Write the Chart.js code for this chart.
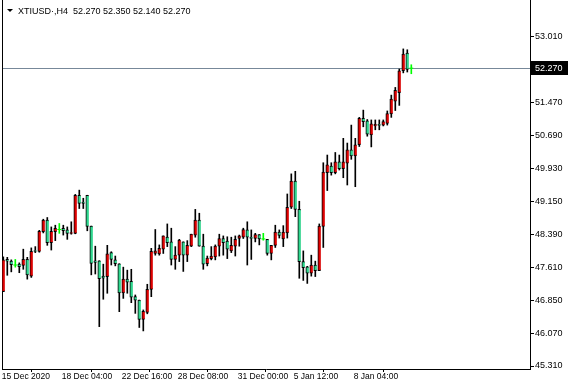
<!DOCTYPE html>
<html>
<head>
<meta charset="utf-8">
<script src="https://cdn.jsdelivr.net/npm/chart.js@4/dist/chart.umd.min.js"></script>
<style>
  html, body { margin: 0; padding: 0; background: #fff; }
  #wrap { width: 571px; height: 390px; position: relative; }
</style>
</head>
<body>
<div id="wrap"><canvas id="priceChart"></canvas></div>
<script>
// XTIUSD H4 candles (oldest first)
const symbol = 'XTIUSD·,H4';
const opens = [
  47.05, 47.80, 47.76, 47.67, 47.69, 47.66, 47.80, 47.41, 48.01, 47.99,
  48.45, 48.72, 48.19, 48.45, 48.50, 48.53, 48.49, 48.41, 48.41, 49.30,
  49.14, 49.30, 48.58, 47.77, 47.77, 47.41, 47.40, 47.96, 47.79, 47.70,
  47.02, 47.34, 47.29, 46.93, 46.85, 46.40, 46.56, 47.10, 47.94, 47.93,
  48.04, 48.32, 48.21, 47.80, 47.90, 48.21, 47.90, 48.11, 48.37, 48.72,
  48.11, 47.70, 47.82, 47.86, 48.11, 48.29, 48.23, 48.00, 48.11, 48.29,
  48.32, 48.49, 48.32, 48.29, 48.38, 48.28, 48.27, 47.94, 48.13, 48.44,
  48.28, 48.42, 49.02, 49.63, 48.97, 47.75, 47.63, 47.48, 47.67, 47.54,
  48.57, 49.83, 49.98, 49.83, 50.08, 49.92, 50.05, 50.36, 50.22, 50.48,
  51.10, 51.04, 50.71, 50.92, 50.96, 50.94, 50.98, 51.20, 51.50, 51.70,
  52.21, 52.62, 52.27
];
const highs = [
  47.86, 47.85, 47.79, 47.80, 47.72, 48.04, 47.85, 48.07, 48.10, 48.48,
  48.74, 48.78, 48.56, 48.60, 48.64, 48.60, 48.56, 48.68, 49.32, 49.42,
  49.23, 49.30, 48.58, 48.11, 47.77, 47.69, 48.13, 47.98, 47.88, 47.70,
  47.62, 47.55, 47.57, 46.97, 46.85, 46.62, 47.22, 48.06, 48.50, 48.14,
  48.35, 48.63, 48.53, 48.10, 48.27, 48.21, 48.24, 48.39, 48.97, 48.88,
  48.39, 47.88, 48.10, 48.14, 48.39, 48.35, 48.33, 48.32, 48.35, 48.37,
  48.53, 48.68, 48.49, 48.41, 48.38, 48.41, 48.27, 48.13, 48.60, 48.49,
  48.59, 49.33, 49.80, 49.86, 49.16, 48.00, 47.64, 47.90, 47.76, 48.63,
  50.06, 50.24, 50.06, 50.30, 50.24, 50.63, 50.52, 50.94, 50.63, 51.12,
  51.29, 51.07, 51.06, 51.06, 51.06, 51.06, 51.27, 51.64, 51.82, 52.25,
  52.72, 52.70, 52.35
];
const lows = [
  47.05, 47.43, 47.51, 47.62, 47.49, 47.57, 47.34, 47.38, 47.96, 47.97,
  48.42, 48.13, 48.02, 48.24, 48.41, 48.37, 48.27, 48.39, 48.40, 48.99,
  48.99, 48.47, 47.44, 47.46, 46.23, 46.87, 47.01, 47.67, 47.65, 46.58,
  46.89, 47.01, 46.79, 46.54, 46.21, 46.13, 46.53, 46.93, 47.90, 47.90,
  47.94, 48.10, 47.67, 47.57, 47.75, 47.52, 47.75, 48.10, 48.32, 48.11,
  47.57, 47.65, 47.79, 47.79, 47.88, 47.90, 47.82, 47.96, 47.88, 48.11,
  48.29, 47.67, 47.80, 48.21, 48.14, 48.25, 47.90, 47.79, 48.08, 48.30,
  48.10, 48.30, 48.99, 48.80, 47.36, 47.31, 47.24, 47.41, 47.40, 47.54,
  48.08, 49.41, 49.77, 49.80, 49.89, 49.71, 49.54, 50.14, 49.50, 50.44,
  50.90, 50.68, 50.43, 50.83, 50.83, 50.92, 50.94, 51.12, 51.28, 51.40,
  52.16, 52.18, 52.14
];
const closes = [
  47.79, 47.76, 47.68, 47.67, 47.63, 47.80, 47.44, 47.99, 47.99, 48.46,
  48.72, 48.19, 48.46, 48.53, 48.50, 48.47, 48.41, 48.43, 49.30, 49.11,
  49.11, 48.57, 47.71, 47.73, 47.35, 47.36, 47.93, 47.80, 47.70, 47.02,
  47.34, 47.27, 46.92, 46.85, 46.40, 46.59, 47.10, 47.99, 48.00, 48.06,
  48.35, 48.19, 47.80, 47.90, 48.25, 47.90, 48.13, 48.39, 48.72, 48.11,
  47.69, 47.83, 47.88, 48.11, 48.29, 48.19, 48.04, 48.13, 48.27, 48.35,
  48.50, 48.32, 48.29, 48.38, 48.28, 48.28, 47.94, 48.13, 48.44, 48.36,
  48.44, 49.02, 49.63, 48.97, 47.75, 47.61, 47.48, 47.67, 47.54, 48.58,
  49.84, 50.01, 49.83, 50.08, 49.92, 50.08, 50.36, 50.22, 50.48, 51.10,
  51.02, 50.73, 50.97, 50.96, 50.93, 51.02, 51.21, 51.55, 51.75, 52.21,
  52.60, 52.24, 52.27
];

// time axis: bar index carrying each label, and the label text
const tickBars = [0, 15, 30, 44, 59, 73, 88];
const tickLabels = ['15 Dec 2020', '18 Dec 04:00', '22 Dec 16:00', '28 Dec 08:00',
                    '31 Dec 00:00', '5 Jan 12:00', '8 Jan 04:00'];
// price axis labels (52.230 is hidden under the current price box)
const priceTicks = [45.31, 46.07, 46.85, 47.61, 48.39, 49.15, 49.93, 50.69, 51.47, 53.01];

const UP = '#e00000';
const DOWN = '#2ed88f';
const DOJI = '#00ff00';
const FONT = '"Liberation Sans", Arial, sans-serif';

const idx = closes.map((_, i) => i);
const isDoji = i => opens[i] === closes[i];
const bodyIdx = idx.filter(i => !isDoji(i));
const dojiIdx = idx.filter(isDoji);
const last = closes.length - 1;

// frame, current price line, header text
const mtDecor = {
  id: 'mtDecor',
  beforeDatasetsDraw(chart) {
    const { ctx, chartArea: a, scales } = chart;
    const y = Math.round(scales.y.getPixelForValue(closes[last])) + 0.5;
    ctx.save();
    ctx.strokeStyle = '#778899';
    ctx.lineWidth = 1;
    ctx.beginPath();
    ctx.moveTo(a.left, y);
    ctx.lineTo(a.right, y);
    ctx.stroke();
    ctx.strokeStyle = '#000';
    ctx.beginPath();
    ctx.moveTo(a.left + 0.5, 0);
    ctx.lineTo(a.left + 0.5, a.bottom);
    ctx.stroke();
    ctx.restore();
  },
  afterDraw(chart) {
    const { ctx, chartArea: a, scales } = chart;
    const y = Math.round(scales.y.getPixelForValue(closes[last]));
    ctx.save();
    // current price box on the axis
    ctx.fillStyle = '#000';
    ctx.fillRect(a.right + 1, y - 7, 37, 14);
    ctx.fillStyle = '#fff';
    ctx.font = '9px ' + FONT;
    ctx.textBaseline = 'middle';
    ctx.fillText(closes[last].toFixed(3), a.right + 5, y + 0.5);
    // header
    ctx.fillStyle = '#000';
    ctx.beginPath();
    ctx.moveTo(7, 9);
    ctx.lineTo(13, 9);
    ctx.lineTo(10, 12);
    ctx.closePath();
    ctx.fill();
    const ohlc = [opens[last], highs[last], lows[last], closes[last]].map(v => v.toFixed(3)).join(' ');
    ctx.textBaseline = 'alphabetic';
    ctx.fillText(symbol + '  ' + ohlc, 18, 13.5);
    ctx.restore();
  }
};

const noPad = s => { s.paddingTop = 0; s.paddingBottom = 0; s.paddingLeft = 0; s.paddingRight = 0; };

function initChart() {
  const canvas = document.getElementById('priceChart');
  const ctx = canvas.getContext('2d');

  new Chart(ctx, {
    type: 'bar',
    data: {
      datasets: [
        {
          label: 'doji',
          type: 'scatter',
          data: dojiIdx.map(i => ({ x: i, y: closes[i] })),
          pointStyle: 'line',
          radius: 2,
          borderColor: DOJI,
          borderWidth: 1,
          order: 0
        },
        {
          label: 'body',
          data: bodyIdx.map(i => ({ x: i, y: [opens[i], closes[i]] })),
          backgroundColor: bodyIdx.map(i => closes[i] > opens[i] ? UP : DOWN),
          borderColor: '#000',
          borderWidth: { left: 1, top: 1, bottom: 1, right: 0 },
          borderSkipped: false,
          barThickness: 3,
          grouped: false,
          order: 1
        },
        {
          label: 'wick',
          data: idx.map(i => ({ x: i, y: [lows[i], highs[i]] })),
          backgroundColor: idx.map(i => isDoji(i) ? DOJI : '#000'),
          barThickness: 1,
          grouped: false,
          order: 2
        }
      ]
    },
    options: {
      responsive: true,
      maintainAspectRatio: false,
      animation: false,
      layout: { autoPadding: false, padding: { left: 2, top: 0, right: 0, bottom: 0 } },
      plugins: {
        legend: { display: false },
        tooltip: { enabled: false }
      },
      scales: {
        x: {
          type: 'linear',
          min: -0.325,
          max: 131.675,
          offset: false,
          grid: { drawOnChartArea: false, tickLength: 3, color: '#000' },
          border: { color: '#000' },
          ticks: {
            align: 'start',
            autoSkip: false,
            maxRotation: 0,
            padding: 0,
            color: '#000',
            font: { family: FONT, size: 8.5 },
            callback: (v, i) => tickLabels[i]
          },
          afterBuildTicks: s => { s.ticks = tickBars.map(b => ({ value: b - 0.4 })); },
          afterFit: s => { s.height = 21; noPad(s); }
        },
        y: {
          position: 'right',
          min: 45.24,
          max: 53.863,
          grid: { drawOnChartArea: false, tickLength: 4, color: '#000' },
          border: { color: '#000' },
          ticks: {
            padding: 1,
            color: '#000',
            font: { family: FONT, size: 9 },
            callback: v => v.toFixed(3)
          },
          afterBuildTicks: s => { s.ticks = priceTicks.map(v => ({ value: v })); },
          afterFit: s => { s.width = 41; noPad(s); }
        }
      }
    },
    plugins: [mtDecor]
  });
}

if (document.readyState === 'loading') {
  document.addEventListener('DOMContentLoaded', initChart);
} else {
  initChart();
}
</script>
</body>
</html>
